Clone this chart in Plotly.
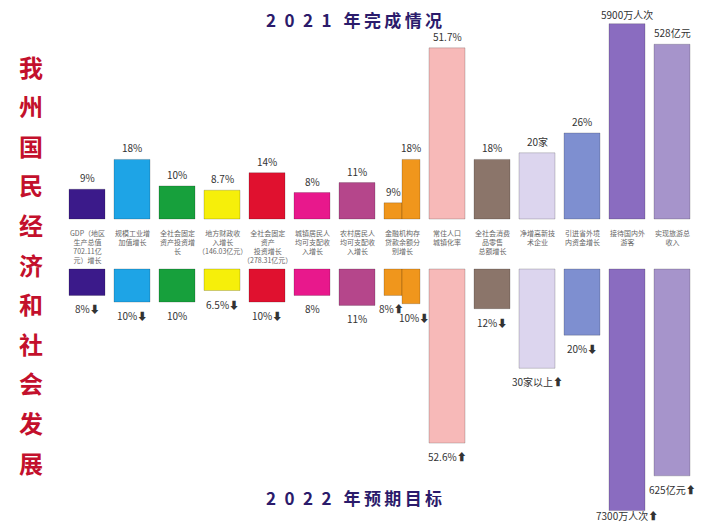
import plotly.graph_objects as go

# ---------------- data ----------------
categories = [
    "GDP（地区<br>生产总值<br>702.11亿<br>元）增长",
    "规模工业增<br>加值增长",
    "全社会固定<br>资产投资增<br>长",
    "地方财政收<br>入增长<br>（146.03亿元）",
    "全社会固定<br>资产<br>投资增长<br>（278.31亿元）",
    "城镇居民人<br>均可支配收<br>入增长",
    "农村居民人<br>均可支配收<br>入增长",
    "金融机构存<br>贷款余额分<br>别增长",
    "常住人口<br>城镇化率",
    "全社会消费<br>品零售<br>总额增长",
    "净增高新技<br>术企业",
    "引进省外境<br>内资金增长",
    "接待国内外<br>游客",
    "实现旅游总<br>收入",
]
# column index of each bar (the finance column holds two bars: deposits / loans)
bar_column = [0, 1, 2, 3, 4, 5, 6, 7, 7, 8, 9, 10, 11, 12, 13]

# 2021 completion (label text, drawn length)
top_labels = ["9%", "18%", "10%", "8.7%", "14%", "8%", "11%", "9%", "18%",
              "51.7%", "18%", "20家", "26%", "5900万人次", "528亿元"]
top_values = [9, 18, 10, 8.7, 14, 8, 11, 4.9, 18, 51.7, 18, 20, 26, 59, 52.8]

# 2022 targets
bottom_labels = ["8%⬇", "10%⬇", "10%", "6.5%⬇", "10%⬇", "8%", "11%", "8%⬆", "10%⬇",
                 "52.6%⬆", "12%⬇", "30家以上⬆", "20%⬇", "7300万人次⬆", "625亿元⬆"]
bottom_values = [8, 10, 10, 6.5, 10, 8, 11, 8, 10.5, 52.6, 12, 30, 20, 73, 62.5]

column_colors = ["#3b1a8a", "#1ea4e6", "#17a03c", "#f6ef0a", "#e0112f", "#e8188c",
                 "#b5468b", "#f0961c", "#f7b9b8", "#8b756a", "#dcd5ee", "#7e8fd0",
                 "#8a6cc0", "#a694cb"]

title_top = "2021年完成情况"
title_bottom = "2022年预期目标"
side_title = "我州国民经济和社会发展"

# ---------------- build ----------------
PAGE_W, PAGE_H = 708, 523
OFF = 8                       # browser body margin
W, H = PAGE_W - OFF, PAGE_H - OFF
GAP = 15.1                    # space between the two baselines (value units)
BAR_W = 0.8
PPU_Y = 3.31
PPU_X = 45.0
X0_PAGE = 87                  # page pixel of column 0 centre
BASE_PAGE = 219               # page pixel of the upper baseline

def py(page_y):               # page pixel -> paper y
    return 1 - (page_y - OFF) / H

def px(page_x):
    return (page_x - OFF) / W

xs, widths, cols, xshift = [], [], [], []
for i, c in enumerate(bar_column):
    n = bar_column.count(c)
    if n == 1:
        xs.append(c); widths.append(BAR_W); xshift.append(0)
    else:
        k = bar_column[:i].count(c)
        xs.append(c - 0.2 + 0.4 * k); widths.append(0.4)
        xshift.append(-2 if k == 0 else 3)
    cols.append(column_colors[c])

fig = go.Figure()
fig.add_trace(go.Bar(x=xs, y=top_values, base=0, width=widths,
                     marker=dict(color=cols, line=dict(color="rgba(0,0,0,0.18)", width=1)),
                     hoverinfo="skip"))
fig.add_trace(go.Bar(x=xs, y=[-v for v in bottom_values], base=-GAP, width=widths,
                     marker=dict(color=cols, line=dict(color="rgba(0,0,0,0.18)", width=1)),
                     hoverinfo="skip"))

lab_font = dict(size=10, color="#333", family="Noto Sans CJK SC, DejaVu Sans")
for x, v, t in zip(xs, top_values, top_labels):
    bar_top = BASE_PAGE - v * PPU_Y
    shift = 2 if bar_top - 2 - 15 >= OFF + 1 else max(0, bar_top - 15 - (OFF + 1))
    fig.add_annotation(x=x, y=v, text=t, showarrow=False, yanchor="bottom",
                       xanchor="center", yshift=shift, font=lab_font)
for x, v, t, xs_ in zip(xs, bottom_values, bottom_labels, xshift):
    bar_bot = BASE_PAGE + (GAP + v) * PPU_Y
    shift = -4 if bar_bot + 4 + 15 < PAGE_H else -(PAGE_H - 17 - bar_bot)
    fig.add_annotation(x=x, y=-GAP - v, text=t, showarrow=False, yanchor="top",
                       xanchor="center", yshift=shift, xshift=xs_, font=lab_font)

for i, lab in enumerate(categories):
    fig.add_annotation(x=i, y=-2.2, text=lab, showarrow=False, yanchor="top",
                       xanchor="center", align="center",
                       font=dict(size=7, color="#666", family="Noto Sans CJK SC"))

def spaced(s):
    return "\u2002".join(s[:4]) + "\u2002\u2009" + "\u2009".join(s[4:])

ttl_font = dict(size=17, color="#2b1b6b", family="Noto Sans CJK SC")
fig.add_annotation(x=px(354), y=py(20), xref="paper", yref="paper", xanchor="center",
                   yanchor="middle", text="<b>" + spaced(title_top) + "</b>",
                   showarrow=False, font=ttl_font)
fig.add_annotation(x=px(354), y=py(497), xref="paper", yref="paper", xanchor="center",
                   yanchor="middle", text="<b>" + spaced(title_bottom) + "</b>",
                   showarrow=False, font=ttl_font)

n = len(side_title)
for k, ch in enumerate(side_title):
    yy = 66 + k * (462 - 66) / (n - 1)
    fig.add_annotation(x=px(31), y=py(yy), xref="paper", yref="paper", xanchor="center",
                       yanchor="middle", text="<b>" + ch + "</b>", showarrow=False,
                       font=dict(size=24, color="#c3102c", family="Noto Sans CJK SC"))

fig.update_layout(
    width=W, height=H, margin=dict(l=0, r=0, t=0, b=0),
    paper_bgcolor="white", plot_bgcolor="white",
    showlegend=False, barmode="overlay",
    xaxis=dict(range=[(OFF - X0_PAGE) / PPU_X, (PAGE_W - X0_PAGE) / PPU_X],
               visible=False, fixedrange=True),
    yaxis=dict(range=[-(PAGE_H - BASE_PAGE) / PPU_Y, (BASE_PAGE - OFF) / PPU_Y],
               visible=False, fixedrange=True),
)

fig.write_html("out.html")
